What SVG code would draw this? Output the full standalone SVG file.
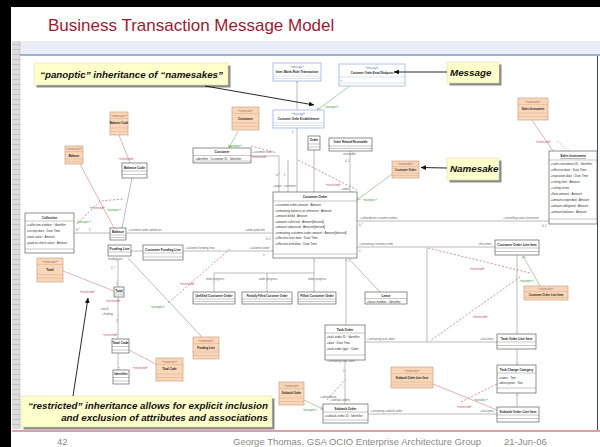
<svg xmlns="http://www.w3.org/2000/svg" width="600" height="447" viewBox="0 0 600 447">
  <defs>
    <style>
      text { font-family: "Liberation Sans", Arial, sans-serif; }
      .title { font-size: 17px; fill: #9C1B33; }
      .foot { font-size: 9.5px; fill: #8A8A8A; }
      .call { font-size: 9.8px; font-weight: bold; font-style: italic; fill: #111; }
      .callbox { fill: #FFFFCC; stroke: #D8D8A8; stroke-width: 0.5; }
      .shadow { fill: #8C8C8C; }
      .cls { fill: #FFFFFF; stroke: #5E5E5E; stroke-width: 0.7; }
      .msg { fill: #FFFFFF; stroke: #9EB4DE; stroke-width: 0.8; }
      .ns { fill: #FAD6B8; stroke: #C9A384; stroke-width: 0.7; }
      .div { stroke: #6E6E6E; stroke-width: 0.4; }
      .divm { stroke: #9EB4DE; stroke-width: 0.4; }
      .divn { stroke: #C9A384; stroke-width: 0.4; }
      .nm { font-size: 3.2px; font-weight: bold; fill: #222; text-anchor: middle; }
      .nms { font-size: 2.8px; font-weight: bold; fill: #222; text-anchor: middle; }
      .at { font-size: 3px; fill: #333; }
      .stm { font-size: 2.6px; fill: #5C7CC0; text-anchor: middle; }
      .stn { font-size: 2.6px; fill: #9A6A5A; text-anchor: middle; }
      .lab { font-size: 2.8px; fill: #666; }
      .labr { font-size: 2.8px; fill: #C04455; }
      .labg { font-size: 2.8px; fill: #3E9A3E; }
      .c { stroke: #8E8E8E; stroke-width: 0.6; fill: none; }
      .cr { stroke: #C9808A; stroke-width: 0.6; fill: none; }
      .crd { stroke: #D0808A; stroke-width: 0.8; fill: none; stroke-dasharray: 2.2 1.6; }
      .cgd { stroke: #7CBF7C; stroke-width: 0.6; fill: none; stroke-dasharray: 2 1.5; }
      .cg { stroke: #86C286; stroke-width: 0.7; fill: none; }
      .ptr { stroke: #111; stroke-width: 0.9; fill: none; }
    </style>
    <marker id="open" viewBox="0 0 6 6" refX="5.5" refY="3" markerWidth="5" markerHeight="5" orient="auto">
      <path d="M0,0 L6,3 L0,6 Z" fill="#FFFFFF" stroke="#8E8E8E" stroke-width="0.8"/>
    </marker>
    <marker id="stick" viewBox="0 0 6 6" refX="5.5" refY="3" markerWidth="5" markerHeight="5" orient="auto">
      <path d="M0,0 L6,3 L0,6" fill="none" stroke="#8E8E8E" stroke-width="0.8"/>
    </marker>
    <marker id="gstick" viewBox="0 0 6 6" refX="5.5" refY="3" markerWidth="5" markerHeight="5" orient="auto">
      <path d="M0,0 L6,3 L0,6" fill="none" stroke="#6FB06F" stroke-width="0.9"/>
    </marker>
    <marker id="pt" viewBox="0 0 8 8" refX="7.5" refY="4" markerWidth="6" markerHeight="6" orient="auto">
      <path d="M0,0.5 L8,4 L0,7.5 Z" fill="#111"/>
    </marker>
    <pattern id="grid" x="12" y="0" width="8" height="5" patternUnits="userSpaceOnUse">
      <rect width="8" height="5" fill="#DCDCDC"/>
      <line x1="0" y1="4.5" x2="8" y2="4.5" stroke="#BDBDBD" stroke-width="0.8"/>
    </pattern>
  </defs>

  <!-- slide frame -->
  <rect width="600" height="447" fill="#FFFFFF"/>
  <rect x="0" y="0" width="600" height="7" fill="#000"/>
  <rect x="0" y="0" width="11" height="447" fill="#000"/>
  <rect x="12" y="41" width="588" height="14" fill="#E9EDF5"/>
  <line x1="12" y1="55" x2="600" y2="55" stroke="#7C9BC9" stroke-width="1.5"/>
  <rect x="12" y="41" width="8" height="388" fill="url(#grid)"/>
  <line x1="20" y1="41" x2="20" y2="429" stroke="#B0B0B0" stroke-width="0.5"/>
  <line x1="597.5" y1="56" x2="597.5" y2="430" stroke="#3A4A66" stroke-width="1"/>
  <line x1="12" y1="431" x2="600" y2="431" stroke="#C0404F" stroke-width="1.2"/>
  <text class="title" x="48" y="31">Business Transaction Message Model</text>
  <text class="foot" x="57" y="445">42</text>
  <text class="foot" x="233" y="445">George Thomas, GSA OCIO Enterprise Architecture Group</text>
  <text class="foot" x="504" y="445">21-Jun-06</text>

  <!-- connectors -->
  <g id="connectors">
    <line class="c" x1="297" y1="110" x2="297" y2="81.5" marker-end="url(#open)"/>
    <line class="cg" x1="350" y1="86" x2="317" y2="110" marker-end="url(#gstick)"/>
    <text class="labg" x="325" y="108">«panoptic»</text>
    <line class="c" x1="297" y1="128" x2="297" y2="192"/>
    <text class="lab" x="292" y="133">1</text>
    <line class="c" x1="314" y1="150" x2="314" y2="192"/>
    <line class="c" x1="350" y1="151" x2="350" y2="192"/>
    <text class="lab" x="343" y="155">receivable</text>
    <text class="lab" x="345" y="162">0..1</text>
    <polyline class="c" points="251,156 279,156 279,192"/>
    <line class="c" x1="288" y1="160" x2="288" y2="192"/>
    <text class="lab" x="273" y="187">+payer</text>
    <text class="lab" x="283" y="187">+customer</text>
    <text class="lab" x="341" y="190">+order</text>
    <text class="lab" x="276" y="176">0..*</text>
    <text class="lab" x="284" y="176">1</text>
    <text class="lab" x="252" y="153">+customer-order</text>
    <text class="labr" x="252" y="157.5">«restricted»</text>

    <line class="cg" x1="238" y1="131" x2="229" y2="148" marker-end="url(#gstick)"/>
    <text class="labg" x="228" y="147">«panoptic»</text>
    <line class="crd" x1="251" y1="146" x2="277" y2="153"/>
    <line class="crd" x1="298" y1="160" x2="357" y2="190"/>
    <text class="labr" x="326" y="186">«restricted»</text>
    <line class="cg" x1="392" y1="174" x2="357" y2="200" marker-end="url(#gstick)"/>
    <text class="labg" x="363" y="201">«panoptic»</text>

    <line class="cr" x1="119" y1="135" x2="130" y2="163"/>
    <text class="labr" x="119" y="160">«restricted»</text>
    <line class="cr" x1="80" y1="164" x2="114" y2="228"/>
    <line class="c" x1="132" y1="178" x2="122" y2="228"/>
    <polyline class="crd" points="77,224 100,201 124,199"/>
    <text class="labr" x="90" y="209">«restricted»</text>
    <text class="labg" x="77" y="223">«panoptic»</text>
    <text class="labg" x="107" y="211">«panoptic»</text>

    <line class="c" x1="74" y1="233" x2="110" y2="233"/>
    <text class="lab" x="76" y="231">0..*</text>
    <text class="lab" x="89" y="231">1</text>
    <line class="c" x1="126" y1="233" x2="273" y2="233"/>
    <text class="lab" x="128" y="231">+customer-order-advances</text>
    <text class="lab" x="245" y="231">+order-paid-info</text>
    <text class="lab" x="266" y="240">0..1</text>
    <line class="c" x1="131" y1="251" x2="143" y2="251"/>
    <line class="c" x1="183" y1="251" x2="273" y2="251"/>
    <text class="lab" x="185" y="249">+customer-funding-lines</text>
    <text class="lab" x="249" y="249">+customer-order</text>
    <text class="lab" x="263" y="256">1</text>

    <line class="c" x1="118" y1="259" x2="118" y2="287"/>
    <text class="lab" x="111" y="269">1..*</text>
    <text class="lab" x="116" y="285">1</text>
    <line class="c" x1="118" y1="297" x2="118" y2="339"/>
    <text class="labr" x="106" y="302">«restricted»</text>
    <text class="lab" x="100" y="310">+result</text>
    <text class="lab" x="102" y="315">+funding</text>
    <text class="lab" x="116" y="322">1</text>
    <text class="labr" x="103" y="336">«restricted»</text>
    <line class="c" x1="118" y1="353" x2="118" y2="370" marker-end="url(#open)"/>
    <line class="cr" x1="63" y1="271" x2="114" y2="291"/>
    <text class="labr" x="80" y="293">«restricted»</text>
    <line class="cr" x1="156" y1="364" x2="129" y2="350"/>
    <text class="labr" x="133" y="369">«restricted»</text>
    <line class="c" x1="128" y1="258" x2="202" y2="337"/>
    <line class="crd" x1="168" y1="303" x2="230" y2="249"/>
    <text class="labr" x="180" y="285">«restricted»</text>
    <text class="labg" x="151" y="308">«panoptic»</text>

    <line class="c" x1="314" y1="273" x2="314" y2="259" marker-end="url(#open)"/>
    <polyline class="c" points="214,292 214,273 314,273 314,292"/>
    <line class="c" x1="267" y1="273" x2="267" y2="292"/>
    <text class="lab" x="206" y="280">order-progress</text>
    <text class="lab" x="259" y="280">order-progress</text>
    <text class="lab" x="308" y="280">order-progress</text>

    <line class="c" x1="380" y1="292" x2="349" y2="259" marker-end="url(#open)"/>
    <line class="c" x1="346" y1="325" x2="346" y2="259" marker-end="url(#stick)"/>

    <line class="c" x1="357" y1="221" x2="549" y2="221"/>
    <text class="lab" x="360" y="219">+subordinate-customer-orders</text>
    <text class="lab" x="503" y="219">+controlling-sales-instrument</text>
    <text class="lab" x="359" y="226">0..*</text>
    <text class="lab" x="542" y="227">0..1</text>
    <line class="c" x1="357" y1="247" x2="495" y2="247"/>
    <text class="lab" x="359" y="245">+containing-customer-order</text>
    <text class="lab" x="478" y="245">+line-items</text>
    <text class="lab" x="359" y="252">1</text>
    <line class="c" x1="427" y1="248" x2="427" y2="342"/>

    <line class="c" x1="365" y1="342" x2="497" y2="342"/>
    <text class="lab" x="367" y="340">+containing-task-order</text>
    <text class="lab" x="480" y="340">+line-items</text>
    <line class="c" x1="368" y1="414" x2="497" y2="414"/>
    <text class="lab" x="370" y="412">+containing-subtask-order</text>
    <text class="lab" x="480" y="412">+line-items</text>
    <line class="c" x1="345" y1="360" x2="345" y2="404"/>
    <text class="lab" x="330" y="401">+subtask-orders</text>
    <text class="lab" x="327" y="362">+containing-task-order</text>
    <text class="lab" x="343" y="372">1</text>

    <line class="c" x1="517" y1="255" x2="517" y2="334"/>
    <line class="c" x1="517" y1="349" x2="517" y2="365" marker-end="url(#open)"/>
    <line class="c" x1="517" y1="407" x2="517" y2="393" marker-end="url(#open)"/>
    <line class="cg" x1="540" y1="286" x2="523" y2="256" marker-end="url(#gstick)"/>
    <text class="labg" x="520" y="282">«panoptic»</text>
    <line class="crd" x1="428" y1="248" x2="530" y2="273"/>
    <text class="labr" x="470" y="270">«restricted»</text>
    <line class="crd" x1="520" y1="277" x2="430" y2="341"/>
    <text class="labr" x="473" y="318">«restricted»</text>

    <line class="cr" x1="433" y1="384" x2="497" y2="410"/>
    <text class="labr" x="457" y="408">«restricted»</text>
    <text class="labg" x="474" y="401">«panoptic»</text>
    <line class="crd" x1="461" y1="402" x2="497" y2="384"/>
    <line class="cg" x1="304" y1="400" x2="323" y2="409" marker-end="url(#gstick)"/>
    <text class="labg" x="303" y="411">«panoptic»</text>
    <line class="crd" x1="327" y1="400" x2="346" y2="379"/>
    <text class="lab" x="320" y="398">+subordinate</text>

    <line class="cr" x1="532" y1="120" x2="553" y2="151"/>
    <text class="labr" x="536" y="143">«restricted»</text>
    <line class="cgd" x1="557" y1="141" x2="569" y2="151"/>
  </g>

  <!-- message classes -->
  <g id="inter-work-role-transaction">
    <rect class="msg" x="273" y="63" width="48" height="18"/>
    <text class="stm" x="297" y="67.5">«message»</text>
    <text class="nm" x="297" y="73">Inter-Work-Role Transaction</text>
    <line class="divm" x1="273" y1="76" x2="321" y2="76"/>
    <line class="divm" x1="273" y1="78.5" x2="321" y2="78.5"/>
  </g>
  <g id="customer-order-entail-endpoint">
    <rect class="msg" x="339" y="64" width="66" height="22"/>
    <text class="stm" x="372" y="68.5">«message»</text>
    <text class="nms" x="372" y="74" font-weight="normal">Customer Order Entail Endpoint</text>
    <line class="divm" x1="339" y1="77" x2="405" y2="77"/>
    <text class="at" x="340.5" y="81">+</text>
    <line class="divm" x1="339" y1="83" x2="405" y2="83"/>
  </g>
  <g id="customer-order-establishment">
    <rect class="msg" x="273" y="110" width="51" height="18"/>
    <text class="stm" x="298.5" y="114.5">«message»</text>
    <text class="nms" x="298.5" y="120">Customer Order Establishment</text>
    <line class="divm" x1="273" y1="123" x2="324" y2="123"/>
    <line class="divm" x1="273" y1="125.5" x2="324" y2="125.5"/>
  </g>

  <!-- classes -->
  <g id="order">
    <rect class="cls" x="308" y="136" width="12" height="14"/>
    <text class="nm" x="314" y="141">Order</text>
    <line class="div" x1="308" y1="144" x2="320" y2="144"/>
    <line class="div" x1="308" y1="147" x2="320" y2="147"/>
  </g>
  <g id="order-related-receivable">
    <rect class="cls" x="329" y="138" width="43" height="13"/>
    <text class="nms" x="350.5" y="143">Order Related Receivable</text>
    <line class="div" x1="329" y1="146" x2="372" y2="146"/>
    <line class="div" x1="329" y1="148.5" x2="372" y2="148.5"/>
  </g>
  <g id="customer-order">
    <rect class="cls" x="273" y="192" width="84" height="66"/>
    <text class="nm" x="315" y="198">Customer Order</text>
    <line class="div" x1="273" y1="201" x2="357" y2="201"/>
    <text class="at" x="275" y="206">+customer-order-amount : Amount</text>
    <text class="at" x="275" y="211.5">+remaining-balance-or-reference : Amount</text>
    <text class="at" x="275" y="217">+amount-billed : Amount</text>
    <text class="at" x="275" y="222.5">+amount-collected : Amount[derived]</text>
    <text class="at" x="275" y="228">+amount-advanced : Amount[derived]</text>
    <text class="at" x="275" y="233.5">+remaining-customer-order-amount : Amount[derived]</text>
    <text class="at" x="275" y="239">+effective-start-date : Date Time</text>
    <text class="at" x="275" y="244.5">+effective-end-date : Date Time</text>
    <line class="div" x1="273" y1="254" x2="357" y2="254"/>
  </g>
  <g id="sales-instrument">
    <rect class="cls" x="549" y="151" width="48" height="73"/>
    <text class="nm" x="573" y="157" text-decoration="underline">Sales Instrument</text>
    <line class="div" x1="549" y1="160" x2="597" y2="160"/>
    <text class="at" x="550.5" y="165">+sales-instrument-ID : Identifier</text>
    <text class="at" x="550.5" y="171">+effective-date : Date Time</text>
    <text class="at" x="550.5" y="177">+expiration-date : Date Time</text>
    <text class="at" x="550.5" y="183">+ceiling-limit : Amount</text>
    <text class="at" x="550.5" y="189">+ceiling-terms</text>
    <text class="at" x="550.5" y="195">+floor-amount : Amount</text>
    <text class="at" x="550.5" y="201">+amount-expended : Amount</text>
    <text class="at" x="550.5" y="207">+amount-obligated : Amount</text>
    <text class="at" x="550.5" y="213">+amount-balance : Amount</text>
    <line class="div" x1="549" y1="219" x2="597" y2="219"/>
  </g>
  <g id="customer">
    <rect class="cls" x="193" y="148" width="58" height="15"/>
    <text class="nm" x="222" y="153">Customer</text>
    <line class="div" x1="193" y1="155.5" x2="251" y2="155.5"/>
    <text class="at" x="195" y="159.5">+identifier : Customer ID : Identifier</text>
    <line class="div" x1="193" y1="161" x2="251" y2="161"/>
  </g>
  <g id="balance-code">
    <rect class="cls" x="122" y="163" width="25" height="15"/>
    <text class="nm" x="134.5" y="168.5">Balance Code</text>
    <line class="div" x1="122" y1="171" x2="147" y2="171"/>
    <line class="div" x1="122" y1="174.5" x2="147" y2="174.5"/>
  </g>
  <g id="collection">
    <rect class="cls" x="25" y="213" width="49" height="40"/>
    <text class="nm" x="49.5" y="218.5">Collection</text>
    <line class="div" x1="25" y1="221" x2="74" y2="221"/>
    <text class="at" x="26.5" y="226">+collection-number : Identifier</text>
    <text class="at" x="26.5" y="232">+receipt-date : Date Time</text>
    <text class="at" x="26.5" y="238">+total-value : Amount</text>
    <text class="at" x="26.5" y="244">+paid-to-check-value : Amount</text>
    <line class="div" x1="25" y1="249" x2="74" y2="249"/>
  </g>
  <g id="balance">
    <rect class="cls" x="110" y="228" width="16" height="12"/>
    <text class="nm" x="118" y="233">Balance</text>
    <line class="div" x1="110" y1="235" x2="126" y2="235"/>
    <line class="div" x1="110" y1="237.5" x2="126" y2="237.5"/>
  </g>
  <g id="funding-line">
    <rect class="cls" x="108" y="245" width="23" height="11"/>
    <text class="nm" x="119.5" y="250">Funding Line</text>
    <line class="div" x1="108" y1="252" x2="131" y2="252"/>
    <text class="lab" x="108" y="260">fundingLine</text>
  </g>
  <g id="customer-funding-line">
    <rect class="cls" x="143" y="245" width="40" height="15"/>
    <text class="nm" x="163" y="250.5">Customer Funding Line</text>
    <line class="div" x1="143" y1="253" x2="183" y2="253"/>
    <line class="div" x1="143" y1="257" x2="183" y2="257"/>
  </g>
  <g id="total">
    <rect class="cls" x="114" y="287" width="10" height="10"/>
    <text class="nm" x="119" y="291.5">Total</text>
    <line class="div" x1="114" y1="293" x2="124" y2="293"/>
    <line class="div" x1="114" y1="295" x2="124" y2="295"/>
  </g>
  <g id="total-code">
    <rect class="cls" x="112" y="339" width="17" height="14"/>
    <text class="nm" x="120.5" y="344">Total Code</text>
    <line class="div" x1="112" y1="346.5" x2="129" y2="346.5"/>
    <line class="div" x1="112" y1="350" x2="129" y2="350"/>
  </g>
  <g id="identifier">
    <rect class="cls" x="113" y="370" width="16" height="14"/>
    <text class="nm" x="121" y="375">Identifier</text>
    <line class="div" x1="113" y1="377.5" x2="129" y2="377.5"/>
    <line class="div" x1="113" y1="381" x2="129" y2="381"/>
  </g>
  <g id="unfilled-customer-order">
    <rect class="cls" x="193" y="292" width="42" height="12"/>
    <text class="nm" x="214" y="297">Unfilled Customer Order</text>
    <line class="div" x1="193" y1="299" x2="235" y2="299"/>
    <line class="div" x1="193" y1="301.5" x2="235" y2="301.5"/>
  </g>
  <g id="partially-filled-customer-order">
    <rect class="cls" x="242" y="292" width="50" height="12"/>
    <text class="nms" x="267" y="297">Partially Filled Customer Order</text>
    <line class="div" x1="242" y1="299" x2="292" y2="299"/>
    <line class="div" x1="242" y1="301.5" x2="292" y2="301.5"/>
  </g>
  <g id="filled-customer-order">
    <rect class="cls" x="298" y="292" width="38" height="12"/>
    <text class="nm" x="317" y="297">Filled Customer Order</text>
    <line class="div" x1="298" y1="299" x2="336" y2="299"/>
    <line class="div" x1="298" y1="301.5" x2="336" y2="301.5"/>
  </g>
  <g id="lease">
    <rect class="cls" x="365" y="292" width="42" height="12"/>
    <text class="nm" x="386" y="297">Lease</text>
    <line class="div" x1="365" y1="298.5" x2="407" y2="298.5"/>
    <text class="at" x="366.5" y="302.5">+lease-number : Identifier</text>
  </g>
  <g id="customer-order-line-item">
    <rect class="cls" x="495" y="240" width="44" height="15"/>
    <text class="nm" x="517" y="245.5">Customer Order Line Item</text>
    <line class="div" x1="495" y1="248" x2="539" y2="248"/>
    <line class="div" x1="495" y1="251.5" x2="539" y2="251.5"/>
  </g>
  <g id="task-order">
    <rect class="cls" x="325" y="325" width="40" height="35"/>
    <text class="nm" x="345" y="330.5">Task Order</text>
    <line class="div" x1="325" y1="333" x2="365" y2="333"/>
    <text class="at" x="326.5" y="338">+task-order-ID : Identifier</text>
    <text class="at" x="326.5" y="344">+date : Date Time</text>
    <text class="at" x="326.5" y="350">+task-order-type : Code</text>
    <line class="div" x1="325" y1="355" x2="365" y2="355"/>
  </g>
  <g id="task-order-line-item">
    <rect class="cls" x="497" y="334" width="39" height="15"/>
    <text class="nm" x="516.5" y="339.5">Task Order Line Item</text>
    <line class="div" x1="497" y1="342" x2="536" y2="342"/>
    <line class="div" x1="497" y1="345.5" x2="536" y2="345.5"/>
  </g>
  <g id="task-charge-category">
    <rect class="cls" x="497" y="365" width="39" height="28"/>
    <text class="nm" x="516.5" y="370.5">Task Charge Category</text>
    <line class="div" x1="497" y1="373" x2="536" y2="373"/>
    <text class="at" x="498.5" y="378.5">+name : Text</text>
    <text class="at" x="498.5" y="384">+description : Text</text>
    <line class="div" x1="497" y1="388" x2="536" y2="388"/>
  </g>
  <g id="subtask-order">
    <rect class="cls" x="323" y="404" width="45" height="19"/>
    <text class="nm" x="345.5" y="409.5">Subtask Order</text>
    <line class="div" x1="323" y1="412" x2="368" y2="412"/>
    <text class="at" x="324.5" y="417">+subtask-order-ID : Identifier</text>
    <line class="div" x1="323" y1="420" x2="368" y2="420"/>
  </g>
  <g id="subtask-order-line-item">
    <rect class="cls" x="497" y="407" width="42" height="15"/>
    <text class="nm" x="518" y="412.5">Subtask Order Line Item</text>
    <line class="div" x1="497" y1="415" x2="539" y2="415"/>
    <line class="div" x1="497" y1="418.5" x2="539" y2="418.5"/>
  </g>

  <!-- namesakes -->
  <g id="ns-sales-instrument">
    <rect class="ns" x="518" y="98" width="30" height="22"/>
    <text class="stn" x="533" y="102.5">«namesake»</text>
    <line class="divn" x1="518" y1="104.5" x2="548" y2="104.5"/>
    <text class="nms" x="533" y="110">Sales Instrument</text>
    <line class="divn" x1="518" y1="113" x2="548" y2="113"/>
    <line class="divn" x1="518" y1="116.5" x2="548" y2="116.5"/>
  </g>
  <g id="ns-customer">
    <rect class="ns" x="232" y="107" width="27" height="23"/>
    <text class="stn" x="245.5" y="111.5">«namesake»</text>
    <line class="divn" x1="232" y1="113.5" x2="259" y2="113.5"/>
    <text class="nm" x="245.5" y="119.5">Customer</text>
    <line class="divn" x1="232" y1="123" x2="259" y2="123"/>
    <line class="divn" x1="232" y1="126.5" x2="259" y2="126.5"/>
  </g>
  <g id="ns-customer-order">
    <rect class="ns" x="392" y="161" width="27" height="17"/>
    <text class="stn" x="405.5" y="165">«namesake»</text>
    <line class="divn" x1="392" y1="166.5" x2="419" y2="166.5"/>
    <text class="nms" x="405.5" y="171">Customer Order</text>
    <line class="divn" x1="392" y1="173" x2="419" y2="173"/>
    <line class="divn" x1="392" y1="175.5" x2="419" y2="175.5"/>
  </g>
  <g id="ns-balance-code">
    <rect class="ns" x="110" y="112" width="18" height="23"/>
    <text class="stn" x="119" y="116.5">«namesake»</text>
    <line class="divn" x1="110" y1="118.5" x2="128" y2="118.5"/>
    <text class="nms" x="119" y="124">Balance Code</text>
    <line class="divn" x1="110" y1="128" x2="128" y2="128"/>
    <line class="divn" x1="110" y1="131.5" x2="128" y2="131.5"/>
  </g>
  <g id="ns-balance">
    <rect class="ns" x="65" y="146" width="18" height="18"/>
    <text class="stn" x="74" y="150">«namesake»</text>
    <line class="divn" x1="65" y1="151.5" x2="83" y2="151.5"/>
    <text class="nms" x="74" y="156.5">Balance</text>
    <line class="divn" x1="65" y1="159" x2="83" y2="159"/>
    <line class="divn" x1="65" y1="161.5" x2="83" y2="161.5"/>
  </g>
  <g id="ns-total">
    <rect class="ns" x="37" y="258" width="26" height="24"/>
    <text class="stn" x="50" y="262.5">«namesake»</text>
    <line class="divn" x1="37" y1="264.5" x2="63" y2="264.5"/>
    <text class="nm" x="50" y="270.5">Total</text>
    <line class="divn" x1="37" y1="274.5" x2="63" y2="274.5"/>
    <line class="divn" x1="37" y1="278" x2="63" y2="278"/>
  </g>
  <g id="ns-funding-line">
    <rect class="ns" x="193" y="337" width="26" height="22"/>
    <text class="stn" x="206" y="341.5">«namesake»</text>
    <line class="divn" x1="193" y1="343.5" x2="219" y2="343.5"/>
    <text class="nms" x="206" y="349">Funding Line</text>
    <line class="divn" x1="193" y1="352" x2="219" y2="352"/>
    <line class="divn" x1="193" y1="355.5" x2="219" y2="355.5"/>
  </g>
  <g id="ns-total-code">
    <rect class="ns" x="156" y="358" width="27" height="23"/>
    <text class="stn" x="169.5" y="362.5">«namesake»</text>
    <line class="divn" x1="156" y1="364.5" x2="183" y2="364.5"/>
    <text class="nms" x="169.5" y="370">Total Code</text>
    <line class="divn" x1="156" y1="374" x2="183" y2="374"/>
    <line class="divn" x1="156" y1="377.5" x2="183" y2="377.5"/>
  </g>
  <g id="ns-customer-order-line-item">
    <rect class="ns" x="524" y="286" width="44" height="14"/>
    <text class="stn" x="546" y="290">«namesake»</text>
    <line class="divn" x1="524" y1="291.5" x2="568" y2="291.5"/>
    <text class="nms" x="546" y="296">Customer Order Line Item</text>
    <line class="divn" x1="524" y1="297.5" x2="568" y2="297.5"/>
  </g>
  <g id="ns-subtask-order-line-item">
    <rect class="ns" x="391" y="367" width="42" height="21"/>
    <text class="stn" x="412" y="371.5">«namesake»</text>
    <line class="divn" x1="391" y1="373.5" x2="433" y2="373.5"/>
    <text class="nms" x="412" y="379">Subtask Order Line Item</text>
    <line class="divn" x1="391" y1="382" x2="433" y2="382"/>
    <line class="divn" x1="391" y1="385" x2="433" y2="385"/>
  </g>
  <g id="ns-subtask-order">
    <rect class="ns" x="279" y="382" width="25" height="23"/>
    <text class="stn" x="291.5" y="386.5">«namesake»</text>
    <line class="divn" x1="279" y1="388.5" x2="304" y2="388.5"/>
    <text class="nms" x="291.5" y="394">Subtask Order</text>
    <line class="divn" x1="279" y1="398" x2="304" y2="398"/>
    <line class="divn" x1="279" y1="401.5" x2="304" y2="401.5"/>
  </g>

  <!-- callouts -->
  <g id="callout-panoptic">
    <rect class="shadow" x="36.5" y="65.5" width="194" height="22"/>
    <rect class="callbox" x="34" y="63" width="194" height="22"/>
    <text class="call" x="40" y="77.5">“panoptic” inheritance of “namesakes”</text>
    <line class="ptr" x1="205" y1="86" x2="314" y2="105" marker-end="url(#pt)"/>
  </g>
  <g id="callout-message">
    <rect class="shadow" x="449.5" y="64.5" width="52" height="21"/>
    <rect class="callbox" x="447" y="62" width="52" height="21"/>
    <text class="call" x="450" y="75.5" font-size="9.5">Message</text>
    <line class="ptr" x1="447" y1="72" x2="394" y2="72" marker-end="url(#pt)"/>
  </g>
  <g id="callout-namesake">
    <rect class="shadow" x="449.5" y="160.5" width="52" height="22"/>
    <rect class="callbox" x="447" y="158" width="52" height="22"/>
    <text class="call" x="450" y="172" font-size="8.8">Namesake</text>
    <line class="ptr" x1="447" y1="168" x2="421" y2="167.5" marker-end="url(#pt)"/>
  </g>
  <g id="callout-restricted">
    <rect class="shadow" x="23.5" y="398.5" width="251" height="31"/>
    <rect class="callbox" x="21" y="396" width="251" height="31"/>
    <text class="call" x="268" y="409" text-anchor="end" font-size="9.4">“restricted” inheritance allows for explicit inclusion</text>
    <text class="call" x="268" y="421" text-anchor="end" font-size="9.4">and exclusion of attributes and associations</text>
    <line class="ptr" x1="73" y1="396" x2="88" y2="298" marker-end="url(#pt)"/>
  </g>
</svg>
